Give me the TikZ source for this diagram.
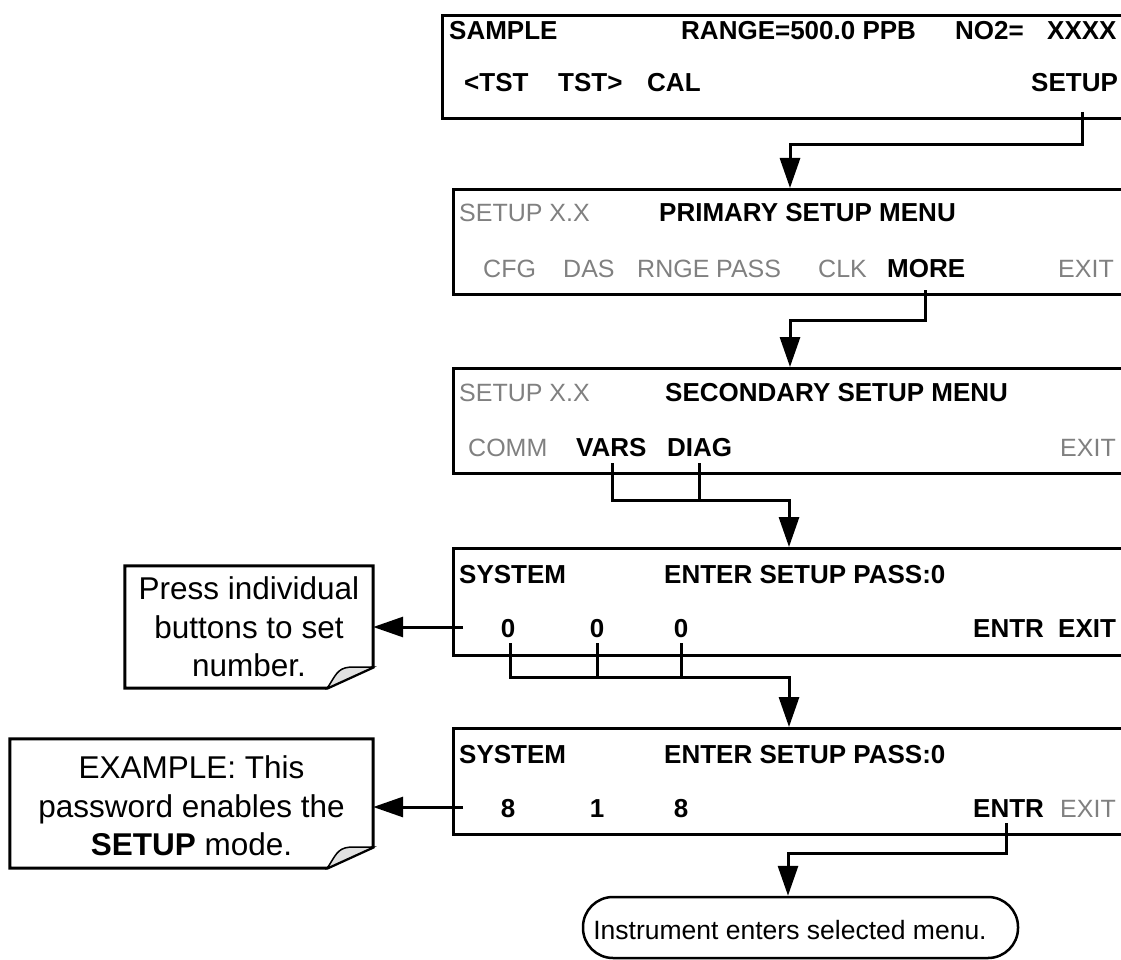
\documentclass[tikz,border=0pt]{standalone}
\usepackage{fontspec}
\setmainfont{Liberation Sans}
\usetikzlibrary{arrows.meta,calc}
\definecolor{txtgray}{RGB}{128,128,128}
\definecolor{foldgray}{RGB}{225,225,225}
\newcommand\lcdfont{\fontsize{26}{30}\selectfont}
\newcommand\lcdgfont{\fontsize{25}{30}\selectfont}
\newcommand\notefont{\fontsize{31.5}{38.5}\selectfont}
\newcommand\termfont{\fontsize{26.5}{30}\selectfont}
\begin{document}
\begin{tikzpicture}[x=1pt,y=-1pt,
  lcdbox/.style={draw, line width=3pt, anchor=north west, inner sep=0pt, minimum width=720pt, minimum height=#1},
  bt/.style={anchor=base west, inner sep=0pt, font=\lcdfont\bfseries},
  gt/.style={anchor=base west, inner sep=0pt, font=\lcdgfont, text=txtgray},
  bd/.style={anchor=base, inner sep=0pt, font=\lcdfont\bfseries},
  conn/.style={line width=3pt},
  arr/.style={conn, -{Triangle[length=30pt,width=20pt]}},
  noteline/.style={line width=3pt, line join=miter},
  foldline/.style={line width=1.5pt, fill=foldgray},
  notebox/.style={inner sep=0pt},
  notetext/.style={inner sep=0pt, align=center, font=\notefont},
]
\useasboundingbox (0,0) rectangle (1121,960);
\clip (0,0) rectangle (1121,960);

% ---------- LCD boxes ----------
\node[lcdbox=103pt] (b1) at (441,14) {};
\node[lcdbox=105pt] (b2) at (452,188) {};
\node[lcdbox=105pt] (b3) at (452,367) {};
\node[lcdbox=107pt] (b4) at (452,547) {};
\node[lcdbox=106pt] (b5) at (452,727) {};

% box 1
\node[bt] (t1a) at (449,40) {SAMPLE};
\node[bt] (t1b) at (681,40) {RANGE=500.0 PPB};
\node[bt] (t1c) at (955,40) {NO2=};
\node[bt] (t1cx) at (1047,40) {XXXX};
\node[bt] (t1d) at (464,92) {<TST};
\node[bt] (t1e) at (558,92) {TST>};
\node[bt] (t1f) at (647,92) {CAL};
\node[bt] (t1g) at (1031,92) {SETUP};

% box 2
\node[gt] (t2a) at (459,222) {SETUP X.X};
\node[bt] (t2b) at (659,222) {PRIMARY SETUP MENU};
\node[gt] (t2c) at (483,277) {CFG};
\node[gt] (t2d) at (563,277) {DAS};
\node[gt] (t2e) at (637,277) {RNGE};
\node[gt] (t2f) at (716,277) {PASS};
\node[gt] (t2g) at (818,277) {CLK};
\node[bt] (t2h) at (887,277) {MORE};
\node[gt] (t2i) at (1058,277) {EXIT};

% box 3
\node[gt] (t3a) at (459,401) {SETUP X.X};
\node[bt] (t3b) at (665,401) {SECONDARY SETUP MENU};
\node[gt] (t3c) at (468,456) {COMM};
\node[bt] (t3d) at (576,456) {VARS};
\node[bt] (t3e) at (667,456) {DIAG};
\node[gt] (t3f) at (1060,456) {EXIT};

% box 4
\node[bt] (t4a) at (459,583) {SYSTEM};
\node[bt] (t4b) at (664,583) {ENTER SETUP PASS:0};
\node[bd] (t4c) at (508,637) {0};
\node[bd] (t4d) at (597,637) {0};
\node[bd] (t4e) at (681,637) {0};
\node[bt] (t4f) at (973,637) {ENTR};
\node[bt] (t4g) at (1058,637) {EXIT};

% box 5
\node[bt] (t5a) at (459,763) {SYSTEM};
\node[bt] (t5b) at (664,763) {ENTER SETUP PASS:0};
\node[bd] (t5c) at (508,817) {8};
\node[bd] (t5d) at (597,817) {1};
\node[bd] (t5e) at (681,817) {8};
\node[bt] (t5f) at (973,817) {ENTR};
\node[gt] (t5g) at (1060,817) {EXIT};

% ---------- notes ----------
\node[notebox, minimum width=248pt, minimum height=122pt] (n1) at (249,627) {};
\draw[noteline] (n1.north west) -- (n1.north east) -- ($(n1.south east)+(0,-21)$) -- ($(n1.south east)+(-46,0)$) -- (n1.south west) -- cycle;
\draw[foldline] ($(n1.south east)+(-46,0)$) .. controls ($(n1.south east)+(-38,-12)$) and ($(n1.south east)+(-36,-20)$) .. ($(n1.south east)+(-24,-21)$) -- ($(n1.south east)+(0,-21)$) -- cycle;
\node[notetext] (n1t) at (249,627) {Press individual\\buttons to set\\number.};

\node[notebox, minimum width=363pt, minimum height=129pt] (n2) at (191.5,803.5) {};
\draw[noteline] (n2.north west) -- (n2.north east) -- ($(n2.south east)+(0,-21)$) -- ($(n2.south east)+(-46,0)$) -- (n2.south west) -- cycle;
\draw[foldline] ($(n2.south east)+(-46,0)$) .. controls ($(n2.south east)+(-38,-12)$) and ($(n2.south east)+(-36,-20)$) .. ($(n2.south east)+(-24,-21)$) -- ($(n2.south east)+(0,-21)$) -- cycle;
\node[notetext] (n2t) at (191.5,806) {EXAMPLE: This\\password enables the\\\textbf{SETUP} mode.};

% ---------- terminal ----------
\node[draw, line width=2.5pt, rounded corners=30pt, minimum width=435pt, minimum height=61pt, inner sep=0pt] (term) at (800.5,927.5) {};
\node[inner sep=0pt, anchor=base, font=\termfont] (termt) at (790,939) {Instrument enters selected menu.};

% ---------- connectors ----------
\coordinate (s1) at (1082,112);
\coordinate (j1) at (790,145);
\draw[arr] (s1) |- (j1) -- (j1 |- b2.north);

\coordinate (s2) at (925,290);
\coordinate (j2) at (790,320);
\draw[arr] (s2) |- (j2) -- (j2 |- b3.north);

\coordinate (s3a) at (612,463);
\coordinate (s3b) at (699,463);
\coordinate (j3) at (789,500);
\draw[conn] (s3b) -- (s3b |- j3);
\draw[arr] (s3a) |- (j3) -- (j3 |- b4.north);

\coordinate (s4a) at (510,643);
\coordinate (s4b) at (597,643);
\coordinate (s4c) at (681,643);
\coordinate (j4) at (789,677);
\draw[conn] (s4b) -- (s4b |- j4);
\draw[conn] (s4c) -- (s4c |- j4);
\draw[arr] (s4a) |- (j4) -- (j4 |- b5.north);

\coordinate (s5) at (1006,823);
\coordinate (j5) at (788,853);
\draw[arr] (s5) |- (j5) -- (j5 |- term.north);

\coordinate (k4) at (463,627);
\draw[arr] (k4) -- (k4 -| n1.east);
\coordinate (k5) at (463,807);
\draw[arr] (k5) -- (k5 -| n2.east);
\end{tikzpicture}
\end{document}
